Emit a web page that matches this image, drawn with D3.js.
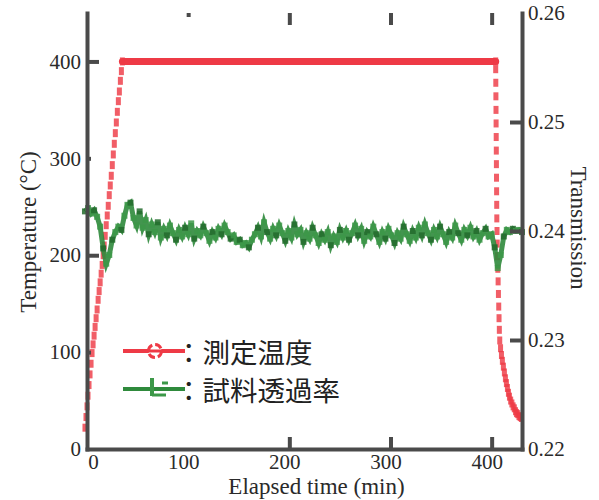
<!DOCTYPE html>
<html>
<head>
<meta charset="utf-8">
<script src="https://cdn.jsdelivr.net/npm/d3@7"></script>
<style>
    body { margin: 0; background: #fff; }
    .tick text { font-family: "Liberation Serif", "Times New Roman", serif; font-size: 21px; fill: #2a2a2a; }
</style>
</head>
<body>
<svg id="chart" width="599" height="500"></svg>
<script>
// ---- data ----
const xTicks = [0, 100, 200, 300, 400];
const tempTicks = [0, 100, 200, 300, 400];
const transTicks = [0.22, 0.23, 0.24, 0.25, 0.26];

// measured temperature (min, degC): heating ramp, hold, cooling
const redT = [-2, -1, 0, 1, 2, 3, 4, 5, 6, 7, 8, 9, 10, 11, 12, 13, 14, 15, 16, 17, 18, 19,
    20, 21, 22, 23, 24, 25, 26, 27, 28, 29, 30, 31, 32, 33, 34, 35,
    404, 404.0, 404.1, 404.2, 404.3, 404.4, 404.5, 404.6, 404.7, 404.8, 404.9, 405.0, 405.1,
    405.3, 405.5, 405.8, 406.1, 406.4, 406.7, 407.0, 407.3, 407.6, 408.0, 408.8, 409.7,
    410.6, 411.6, 412.6, 413.6, 414.6, 415.6, 416.6, 417.6, 418.8, 420, 421.2, 422.4,
    423.6, 424.6, 425.8, 427, 428.2, 429.4];
const redV = [22, 33, 44, 55, 66, 77, 88, 99, 108, 117, 126, 135, 144, 154, 163, 172, 181, 190,
    200, 210, 220, 231, 241, 251, 262, 272, 282, 293, 304, 315, 326, 337, 348, 359, 369, 380, 390, 400,
    400, 392, 378, 364, 350, 336, 322, 308, 294, 280, 266, 252, 238,
    225, 212, 199, 186, 173, 160, 147, 135, 123, 112, 104, 97,
    91, 85, 79, 73, 68, 63, 58, 54, 50, 47, 44, 42,
    39, 37, 36, 34, 33, 32];

// sample transmission, one reading every 3 min starting at -2 min
const greenStart = -2, greenStep = 3;
const greenV = [
    0.2418, 0.2421, 0.2416, 0.2419, 0.2413, 0.2404, 0.2384, 0.2370, 0.2378, 0.2392,
    0.2399, 0.2404, 0.2401, 0.2414, 0.2424, 0.2426, 0.2412, 0.2405, 0.2418, 0.2403,
    0.2410, 0.2397, 0.2406, 0.2399, 0.2408, 0.2394, 0.2402, 0.2396, 0.2405, 0.2398,
    0.2392, 0.2401, 0.2395, 0.2403, 0.2397, 0.2407, 0.2393, 0.2400, 0.2396, 0.2404,
    0.2398, 0.2391, 0.2399, 0.2394, 0.2402, 0.2397, 0.2405, 0.2399, 0.2393, 0.2396,
    0.2390, 0.2392, 0.2387, 0.2389, 0.2385, 0.2392, 0.2397, 0.2403, 0.2395, 0.2408,
    0.2399, 0.2393, 0.2402, 0.2396, 0.2405, 0.2398, 0.2391, 0.2400, 0.2394, 0.2406,
    0.2397, 0.2401, 0.2390, 0.2398, 0.2393, 0.2403, 0.2396, 0.2389, 0.2397, 0.2392,
    0.2399, 0.2387, 0.2395, 0.2390, 0.2401, 0.2394, 0.2400, 0.2392, 0.2398, 0.2405,
    0.2396, 0.2402, 0.2391, 0.2399, 0.2395, 0.2404, 0.2397, 0.2390, 0.2399, 0.2393,
    0.2402, 0.2396, 0.2389, 0.2398, 0.2393, 0.2404, 0.2397, 0.2391, 0.2400, 0.2394,
    0.2403, 0.2396, 0.2406, 0.2398, 0.2392, 0.2401, 0.2395, 0.2404, 0.2397, 0.2390,
    0.2399, 0.2394, 0.2405, 0.2398, 0.2392, 0.2401, 0.2396, 0.2403, 0.2395, 0.2400,
    0.2392, 0.2398, 0.2402, 0.2395, 0.2397, 0.2385, 0.2366, 0.2378, 0.2395, 0.2401,
    0.2399, 0.2402, 0.2400, 0.2401, 0.2399];

const legendLabels = ["：測定温度", "：試料透過率"];

// ---- layout ----
const LEFT = 87, RIGHT = 522, TOP = 13, BOTTOM = 449;
const AXIS = "#4a4a4a", RED = "#ee3a46", GREEN = "#2f8a3c";

const svg = d3.select("#chart");

const x = d3.scaleLinear().domain([0, 430]).range([LEFT, RIGHT]);
const yT = d3.scaleLinear().domain([0, 450]).range([BOTTOM, TOP]);
const yR = d3.scaleLinear().domain([0.22, 0.26]).range([BOTTOM, TOP]);

const red = redT.map((t, i) => ({t: t, v: redV[i]}));
const green = greenV.map((v, i) => ({t: greenStart + i * greenStep, v: v}));

// ---- temperature series ----
const hold = red.filter(d => d.v === 400);
svg.append("path")
    .attr("fill", "none")
    .attr("stroke", RED)
    .attr("stroke-width", 7)
    .attr("stroke-linecap", "round")
    .attr("d", d3.line().x(d => x(d.t)).y(d => yT(d.v))(hold));

svg.append("g").selectAll("rect")
    .data(red)
    .join("rect")
    .attr("x", d => x(d.t) - 2.5)
    .attr("y", d => yT(d.v) - 4)
    .attr("width", 5)
    .attr("height", 8)
    .attr("fill", RED)
    .attr("opacity", 0.82);

// ---- transmission series ----
svg.append("path")
    .attr("fill", "none")
    .attr("stroke", GREEN)
    .attr("stroke-width", 5)
    .attr("opacity", 0.9)
    .attr("d", d3.line().x(d => x(d.t)).y(d => yR(d.v))(green));

svg.append("g").selectAll("rect")
    .data(green)
    .join("rect")
    .attr("x", d => x(d.t) - 3)
    .attr("y", d => yR(d.v) - 3)
    .attr("width", 6)
    .attr("height", 6)
    .attr("fill", (d, i) => i % 3 === 0 ? "#226b2c" : "#3c9848")
    .attr("opacity", 0.85);

// ---- axes ----
function styleAxis(g) {
    g.select(".domain").attr("stroke", AXIS).attr("stroke-width", 4).attr("stroke-linecap", "square");
    g.selectAll(".tick line").attr("stroke", AXIS).attr("stroke-width", 4);
}

const xAxis = svg.append("g")
    .attr("transform", `translate(0,${BOTTOM})`)
    .call(d3.axisBottom(x).tickValues(xTicks).tickSize(-12).tickSizeOuter(0).tickPadding(5))
    .call(styleAxis);
xAxis.selectAll(".tick").filter(d => d < 200).select("line").remove();
xAxis.selectAll(".tick text").attr("dx", d => d === 0 ? 6 : -5);

const topAxis = svg.append("g")
    .attr("transform", `translate(0,${TOP})`)
    .call(d3.axisTop(x).tickValues(xTicks.slice(1)).tickSize(-12).tickFormat(""))
    .call(styleAxis);
topAxis.select(".domain").remove();
topAxis.selectAll(".tick").filter(d => d === 100).select("line").attr("y2", 4);

const leftAxis = svg.append("g")
    .attr("transform", `translate(${LEFT},0)`)
    .call(d3.axisLeft(yT).tickValues(tempTicks).tickSize(-12).tickSizeOuter(0).tickPadding(6))
    .call(styleAxis);
leftAxis.selectAll(".tick").filter(d => d === 100 || d === 300).select("line").attr("x2", 4);
leftAxis.selectAll(".tick").filter(d => d === 0).select("line").remove();

const rightAxis = svg.append("g")
    .attr("transform", `translate(${RIGHT},0)`)
    .call(d3.axisRight(yR).tickValues(transTicks).tickSize(-12).tickSizeOuter(0).tickPadding(6)
        .tickFormat(d3.format(".2f")))
    .call(styleAxis);
rightAxis.selectAll(".tick").filter(d => d === 0.22 || d === 0.26).select("line").remove();

// ---- titles ----
const titleFont = "Liberation Serif, Times New Roman, serif";
svg.append("text")
    .attr("x", (LEFT + RIGHT) / 2 + 12)
    .attr("y", 494)
    .attr("text-anchor", "middle")
    .attr("font-family", titleFont)
    .attr("font-size", 23)
    .attr("fill", "#2a2a2a")
    .text("Elapsed time (min)");

svg.append("text")
    .attr("transform", `translate(28,232) rotate(-90)`)
    .attr("text-anchor", "middle")
    .attr("dominant-baseline", "central")
    .attr("font-family", titleFont)
    .attr("font-size", 23)
    .attr("fill", "#2a2a2a")
    .text("Temperature (°C)");

svg.append("text")
    .attr("transform", `translate(578,228) rotate(90)`)
    .attr("text-anchor", "middle")
    .attr("dominant-baseline", "central")
    .attr("font-family", titleFont)
    .attr("font-size", 23)
    .attr("fill", "#2a2a2a")
    .text("Transmission");

// ---- legend ----
const legend = svg.append("g");
const rows = [{y: 351, color: RED}, {y: 389, color: GREEN}];

rows.forEach((r, i) => {
    legend.append("line")
        .attr("x1", 123).attr("x2", 185)
        .attr("y1", r.y).attr("y2", r.y)
        .attr("stroke", r.color)
        .attr("stroke-width", 4);
    legend.append("text")
        .attr("x", 175)
        .attr("y", r.y)
        .attr("dominant-baseline", "central")
        .attr("font-family", "Noto Sans CJK JP")
        .attr("font-size", 27.5)
        .attr("fill", "#222")
        .text(legendLabels[i]);
});

// marker glyphs
legend.append("circle")
    .attr("cx", 155).attr("cy", 351).attr("r", 6.5)
    .attr("fill", "#fff")
    .attr("stroke", RED)
    .attr("stroke-width", 3)
    .attr("stroke-dasharray", "7,3");
legend.append("line")
    .attr("x1", 146).attr("x2", 164).attr("y1", 351).attr("y2", 351)
    .attr("stroke", RED).attr("stroke-width", 3);

legend.append("line")
    .attr("x1", 152).attr("x2", 152).attr("y1", 378).attr("y2", 396)
    .attr("stroke", "#3c9848").attr("stroke-width", 4);
legend.append("line")
    .attr("x1", 152).attr("x2", 166).attr("y1", 395).attr("y2", 395)
    .attr("stroke", "#3c9848").attr("stroke-width", 3);
legend.append("line")
    .attr("x1", 162).attr("x2", 168).attr("y1", 383).attr("y2", 383)
    .attr("stroke", "#3c9848").attr("stroke-width", 3);
</script>
</body>
</html>
